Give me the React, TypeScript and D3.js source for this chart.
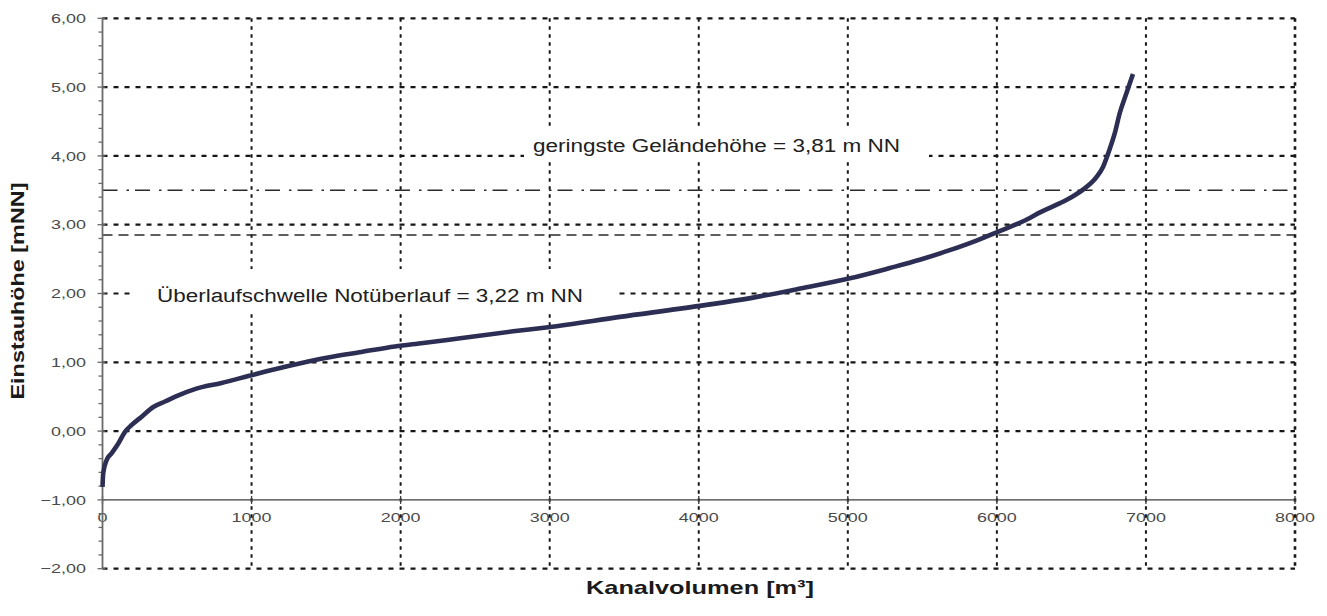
import React, { useEffect, useRef } from 'react';
import * as d3 from 'd3';

// Kanalvolumen [m³] vs. Einstauhöhe [mNN]
const volumes = [0, 5, 28, 62, 106, 151, 196, 263, 341, 419, 509, 620, 799, 978, 1157, 1336, 1514, 1738, 1962, 2152, 2400, 2755, 2990, 3471, 4007, 4365, 4700, 5014, 5282, 5483, 5684, 5863, 6010, 6176, 6300, 6420, 6500, 6578, 6668, 6712, 6757, 6791, 6824, 6869, 6913];
const heights = [-0.81, -0.61, -0.42, -0.32, -0.18, -0.01, 0.09, 0.21, 0.35, 0.43, 0.52, 0.61, 0.7, 0.8, 0.9, 0.99, 1.07, 1.15, 1.23, 1.28, 1.35, 1.45, 1.51, 1.66, 1.82, 1.94, 2.08, 2.22, 2.37, 2.49, 2.63, 2.77, 2.9, 3.05, 3.19, 3.31, 3.4, 3.51, 3.69, 3.84, 4.1, 4.33, 4.62, 4.91, 5.19];

const xTicks = [0, 1000, 2000, 3000, 4000, 5000, 6000, 7000, 8000];
const yTicks = [-2, -1, 0, 1, 2, 3, 4, 5, 6];

// reference lines: dash-dot and dashed
const refLevels = [3.5, 2.85];
const annotations = ['geringste Geländehöhe = 3,81 m NN', 'Überlaufschwelle Notüberlauf = 3,22 m NN'];
const annotationLevels = [4, 2];

const W = 1327;
const H = 616;

const App: React.FC = () => {
    const svgRef = useRef<SVGSVGElement>(null);

    useEffect(() => {
        if (!svgRef.current) return;
        const svg = d3.select(svgRef.current);
        svg.selectAll('*').remove();

        const left = 102.5, right = 1295, top = 18.3, bottom = 568.7;
        const x = d3.scaleLinear().domain([0, 8000]).range([left, right]);
        const y = d3.scaleLinear().domain([-2, 6]).range([bottom, top]);

        // widen glyphs the way the original renderer did
        const stretch = (sel: d3.Selection<SVGTextElement, any, any, any>, k: number) => {
            sel.each(function () {
                const len = this.getComputedTextLength();
                d3.select(this).attr('textLength', len * k).attr('lengthAdjust', 'spacingAndGlyphs');
            });
        };

        const font = 'Arial, "Liberation Sans", sans-serif';

        // y tick labels
        const yLab = svg.append('g').selectAll('text')
            .data(yTicks)
            .enter()
            .append('text')
            .attr('x', 86)
            .attr('y', d => y(d))
            .attr('dy', '0.36em')
            .attr('text-anchor', 'end')
            .style('font-family', font)
            .style('font-size', '13px')
            .style('fill', '#4a4a4a')
            .text(d => d3.format('.2f')(d).replace('.', ','));
        stretch(yLab as any, 1.38);

        // x tick labels
        const xLab = svg.append('g').selectAll('text')
            .data(xTicks)
            .enter()
            .append('text')
            .attr('x', d => x(d))
            .attr('y', 522)
            .attr('text-anchor', 'middle')
            .style('font-family', font)
            .style('font-size', '13px')
            .style('fill', '#4a4a4a')
            .text(d => String(d));
        stretch(xLab as any, 1.38);

        // horizontal grid (dotted), -1 is the category axis
        svg.append('g').selectAll('line')
            .data(yTicks.filter(d => d !== -1))
            .enter()
            .append('line')
            .attr('x1', left)
            .attr('x2', right)
            .attr('y1', d => y(d))
            .attr('y2', d => y(d))
            .attr('stroke', '#161616')
            .attr('stroke-width', 2.2)
            .attr('stroke-dasharray', '5,6');

        // vertical grid (dotted)
        svg.append('g').selectAll('line')
            .data(xTicks.filter(d => d > 0))
            .enter()
            .append('line')
            .attr('x1', d => x(d))
            .attr('x2', d => x(d))
            .attr('y1', top)
            .attr('y2', bottom)
            .attr('stroke', '#161616')
            .attr('stroke-width', d => (d === 8000 ? 2.6 : 2))
            .attr('stroke-dasharray', '3.5,4.5');

        // reference levels
        svg.append('g').selectAll('line')
            .data(refLevels)
            .enter()
            .append('line')
            .attr('x1', left)
            .attr('x2', right)
            .attr('y1', d => y(d))
            .attr('y2', d => y(d))
            .attr('stroke', '#2a2a2a')
            .attr('stroke-width', 1.5)
            .attr('stroke-dasharray', (d, i) => (i === 0 ? '15,9,2.5,6' : '10,6'));

        // x axis at -1
        svg.append('line')
            .attr('x1', left).attr('x2', right)
            .attr('y1', y(-1)).attr('y2', y(-1))
            .attr('stroke', '#3c3c3c')
            .attr('stroke-width', 1.3);
        svg.append('g').selectAll('line')
            .data(xTicks)
            .enter()
            .append('line')
            .attr('x1', d => x(d)).attr('x2', d => x(d))
            .attr('y1', y(-1) - 4).attr('y2', y(-1) + 4)
            .attr('stroke', '#3c3c3c')
            .attr('stroke-width', 1.3);

        // y axis with major and minor ticks
        svg.append('line')
            .attr('x1', left).attr('x2', left)
            .attr('y1', top).attr('y2', bottom)
            .attr('stroke', '#6a6a6a')
            .attr('stroke-width', 1.8);
        const minor = d3.range(-2, 6.001, 0.2);
        svg.append('g').selectAll('line')
            .data(minor)
            .enter()
            .append('line')
            .attr('x1', d => (Math.abs(d - Math.round(d)) < 1e-6 ? left - 5 : left - 4))
            .attr('x2', d => (Math.abs(d - Math.round(d)) < 1e-6 ? left + 3 : left))
            .attr('y1', d => y(d)).attr('y2', d => y(d))
            .attr('stroke', '#6a6a6a')
            .attr('stroke-width', 1.3);

        // annotation boxes
        const boxes = [
            { x0: 524, x1: 929, y0: 127, y1: 159, tx: 533, ty: 152, len: 367 },
            { x0: 130, x1: 616, y0: 269, y1: 313, tx: 157, ty: 302, len: 426 },
        ];
        annotations.forEach((t, i) => {
            const b = boxes[i];
            svg.append('rect')
                .attr('x', b.x0).attr('y', b.y0)
                .attr('width', b.x1 - b.x0).attr('height', b.y1 - b.y0)
                .attr('fill', 'white');
            svg.append('text')
                .attr('x', b.tx)
                .attr('y', b.ty)
                .attr('data-level', annotationLevels[i])
                .attr('textLength', b.len)
                .attr('lengthAdjust', 'spacingAndGlyphs')
                .style('font-family', font)
                .style('font-size', '18px')
                .style('fill', '#202020')
                .text(t);
        });

        // curve
        const pts = volumes.map((v, i) => [v, heights[i]] as [number, number]);
        const line = d3.line<[number, number]>()
            .x(d => x(d[0]))
            .y(d => y(d[1]))
            .curve(d3.curveMonotoneX);
        svg.append('path')
            .datum(pts)
            .attr('d', line)
            .attr('fill', 'none')
            .attr('stroke', '#2c2f53')
            .attr('stroke-width', 4.6)
            .attr('stroke-linejoin', 'round');

        // axis titles
        const yt = svg.append('text')
            .attr('transform', `translate(24,291) rotate(-90)`)
            .attr('text-anchor', 'middle')
            .style('font-family', font)
            .style('font-size', '18px')
            .style('font-weight', 'bold')
            .style('fill', '#1a1a1a')
            .text('Einstauhöhe [mNN]');
        yt.attr('textLength', 217).attr('lengthAdjust', 'spacingAndGlyphs');

        svg.append('text')
            .attr('x', 700)
            .attr('y', 594)
            .attr('text-anchor', 'middle')
            .attr('textLength', 228)
            .attr('lengthAdjust', 'spacingAndGlyphs')
            .style('font-family', font)
            .style('font-size', '19px')
            .style('font-weight', 'bold')
            .style('fill', '#1a1a1a')
            .text('Kanalvolumen [m³]');
    }, []);

    return (
        <svg
            ref={svgRef}
            width={W}
            height={H}
            style={{ position: 'absolute', left: 0, top: 0, background: 'white' }}
        />
    );
};

export default App;
